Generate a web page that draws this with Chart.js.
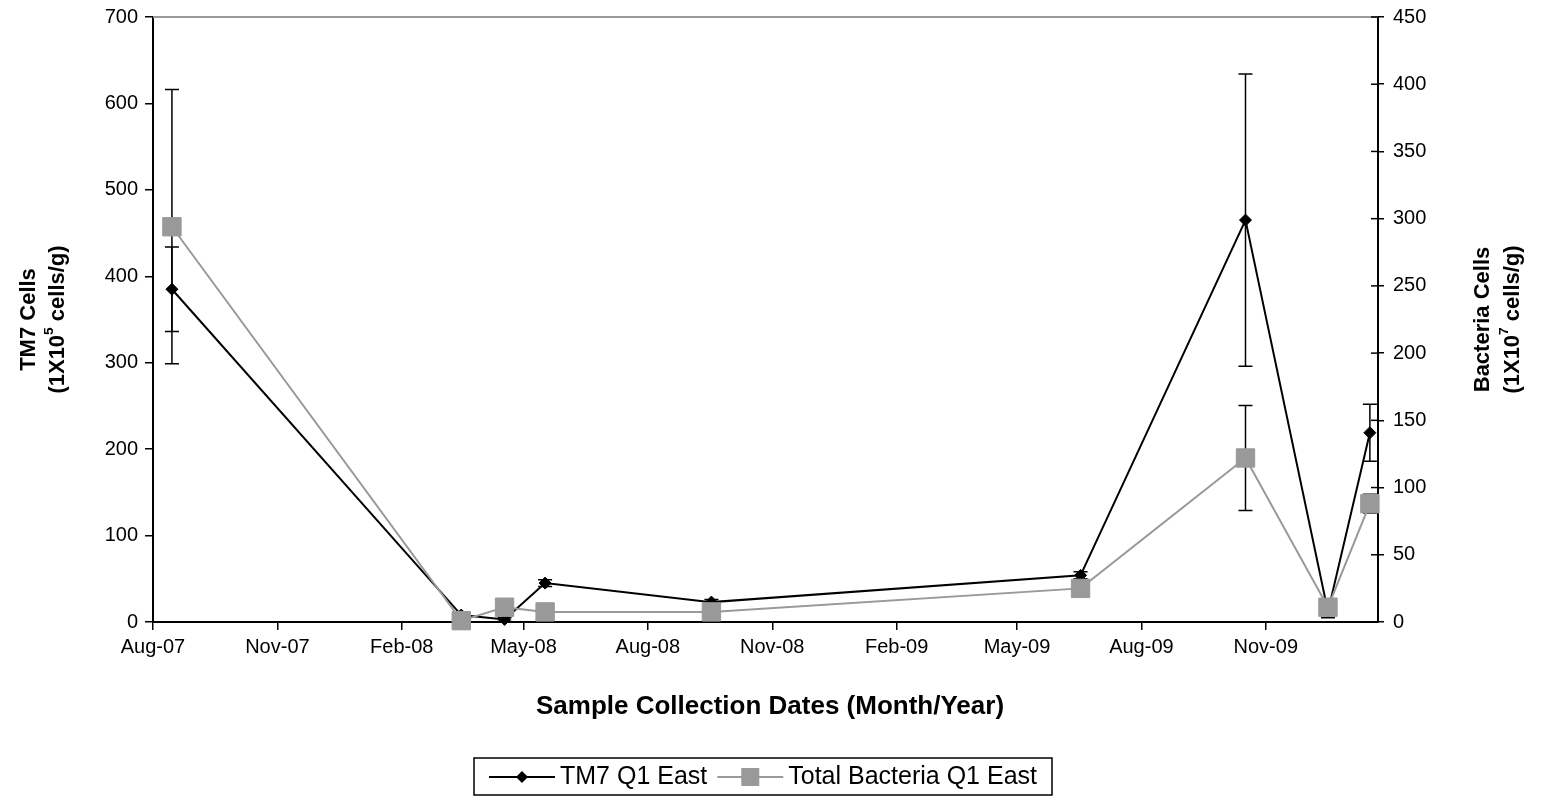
<!DOCTYPE html>
<html>
<head>
<meta charset="utf-8">
<script src="https://cdn.jsdelivr.net/npm/chart.js@4.4.1/dist/chart.umd.min.js"></script>
<style>
  html, body { margin: 0; padding: 0; background: #fff; }
  #wrap { width: 1541px; height: 796px; }
</style>
</head>
<body>
<div id="wrap"><canvas id="chart" width="1541" height="796"></canvas></div>
<script>
// Sample dates and values.
const sampleDates = ["2007-08-15", "2008-03-16", "2008-04-17", "2008-05-17", "2008-09-17",
  "2009-06-17", "2009-10-17", "2009-12-17", "2010-01-17"];
const tm7Cells = [385, 8, 3, 45, 23, 54, 465, 12, 219];
const tm7Err = [49, 2, 2, 4, 3, 4, 169, 7, 33];
const bacteriaCells = [294, 1, 11, 7.5, 7.5, 25, 122, 11, 88];
const bacteriaErr = [102, 1, 1, 1, 1, 1, 39, 1, 7];

// X axis tick dates and their labels (Excel date axis, 3 month steps).
const tickDates = ["2007-08-01", "2007-11-01", "2008-02-01", "2008-05-01", "2008-08-01",
  "2008-11-01", "2009-02-01", "2009-05-01", "2009-08-01", "2009-11-01"];
const tickLabels = ["Aug-07", "Nov-07", "Feb-08", "May-08", "Aug-08",
  "Nov-08", "Feb-09", "May-09", "Aug-09", "Nov-09"];
const axisStart = "2007-08-01";
const axisEnd = "2010-01-23";

const FONT = "'Liberation Sans', Arial, sans-serif";

// Days since the start of the axis.
function dayNum(s) {
  return Math.round((Date.parse(s) - Date.parse(axisStart)) / 86400000);
}

const tm7Points = sampleDates.map((d, i) => ({ x: dayNum(d), y: tm7Cells[i] }));
const bacteriaPoints = sampleDates.map((d, i) => ({ x: dayNum(d), y: bacteriaCells[i] }));

// Draw a line of text with a superscript piece, centred on (0,0) of the current transform.
function drawRich(ctx, parts, size, bold) {
  const w = bold ? "bold " : "";
  let total = 0;
  parts.forEach(p => {
    ctx.font = w + (p.sup ? size * 0.62 : size) + "px " + FONT;
    p.w = ctx.measureText(p.t).width;
    total += p.w;
  });
  let x = -total / 2;
  ctx.textBaseline = "middle";
  ctx.textAlign = "left";
  parts.forEach(p => {
    ctx.font = w + (p.sup ? size * 0.62 : size) + "px " + FONT;
    ctx.fillText(p.t, x, p.sup ? -size * 0.38 : 0);
    x += p.w;
  });
}

// Keep the plot area exactly where the reference has it.
function noPad(scale) {
  scale.paddingTop = 0;
  scale.paddingBottom = 0;
  scale.paddingLeft = 0;
  scale.paddingRight = 0;
}

const decor = {
  id: "decor",
  beforeDatasetsDraw(chart) {
    // Error bars.
    const ctx = chart.ctx;
    const xs = chart.scales.x;
    ctx.save();
    ctx.strokeStyle = "#000";
    ctx.lineWidth = 1.5;
    const bars = [
      { vals: tm7Cells, err: tm7Err, sc: chart.scales.y },
      { vals: bacteriaCells, err: bacteriaErr, sc: chart.scales.y1 }
    ];
    bars.forEach(b => {
      sampleDates.forEach((d, i) => {
        const px = xs.getPixelForValue(dayNum(d));
        const top = b.sc.getPixelForValue(b.vals[i] + b.err[i]);
        const bot = b.sc.getPixelForValue(b.vals[i] - b.err[i]);
        ctx.beginPath();
        ctx.moveTo(px, top); ctx.lineTo(px, bot);
        ctx.moveTo(px - 7, top); ctx.lineTo(px + 7, top);
        ctx.moveTo(px - 7, bot); ctx.lineTo(px + 7, bot);
        ctx.stroke();
      });
    });
    ctx.restore();
  },
  afterDraw(chart) {
    const ctx = chart.ctx;
    const a = chart.chartArea;
    ctx.save();

    // Top border of plot area.
    ctx.strokeStyle = "#999";
    ctx.lineWidth = 2;
    ctx.beginPath();
    ctx.moveTo(a.left, a.top); ctx.lineTo(a.right, a.top);
    ctx.stroke();

    // Inner half of the right axis ticks.
    ctx.strokeStyle = "#000";
    ctx.lineWidth = 1.5;
    chart.scales.y1.ticks.forEach(t => {
      const py = chart.scales.y1.getPixelForValue(t.value);
      ctx.beginPath();
      ctx.moveTo(a.right - 7, py); ctx.lineTo(a.right, py);
      ctx.stroke();
    });

    ctx.fillStyle = "#000";
    const midY = (a.top + a.bottom) / 2;

    // Left axis title.
    ctx.save();
    ctx.translate(29, midY); ctx.rotate(-Math.PI / 2);
    drawRich(ctx, [{ t: "TM7 Cells" }], 22, true);
    ctx.restore();
    ctx.save();
    ctx.translate(58, midY); ctx.rotate(-Math.PI / 2);
    drawRich(ctx, [{ t: "(1X10" }, { t: "5", sup: true }, { t: " cells/g)" }], 22, true);
    ctx.restore();

    // Right axis title.
    ctx.save();
    ctx.translate(1483, midY); ctx.rotate(-Math.PI / 2);
    drawRich(ctx, [{ t: "Bacteria Cells" }], 22, true);
    ctx.restore();
    ctx.save();
    ctx.translate(1513, midY); ctx.rotate(-Math.PI / 2);
    drawRich(ctx, [{ t: "(1X10" }, { t: "7", sup: true }, { t: " cells/g)" }], 22, true);
    ctx.restore();

    // X axis title.
    ctx.save();
    ctx.translate(770, 707);
    drawRich(ctx, [{ t: "Sample Collection Dates (Month/Year)" }], 26, true);
    ctx.restore();

    // Legend with a box.
    const ly = 777;
    ctx.font = "25px " + FONT;
    const t1 = "TM7 Q1 East", t2 = "Total Bacteria Q1 East";
    const w1 = ctx.measureText(t1).width, w2 = ctx.measureText(t2).width;
    const seg = 66, gap = 5, between = 10, padX = 15;
    const boxW = padX * 2 + seg + gap + w1 + between + seg + gap + w2;
    const bx = 763 - boxW / 2;
    ctx.strokeStyle = "#000";
    ctx.lineWidth = 1.5;
    ctx.strokeRect(bx, 758, boxW, 37);

    let x = bx + padX;
    ctx.strokeStyle = "#000"; ctx.lineWidth = 2;
    ctx.beginPath(); ctx.moveTo(x, ly); ctx.lineTo(x + seg, ly); ctx.stroke();
    ctx.fillStyle = "#000";
    ctx.beginPath();
    ctx.moveTo(x + seg / 2 - 6, ly); ctx.lineTo(x + seg / 2, ly - 6);
    ctx.lineTo(x + seg / 2 + 6, ly); ctx.lineTo(x + seg / 2, ly + 6);
    ctx.closePath(); ctx.fill();
    x += seg + gap;
    ctx.textAlign = "left"; ctx.textBaseline = "middle";
    ctx.fillText(t1, x, ly);
    x += w1 + between;

    ctx.strokeStyle = "#999";
    ctx.beginPath(); ctx.moveTo(x, ly); ctx.lineTo(x + seg, ly); ctx.stroke();
    ctx.fillStyle = "#999";
    ctx.fillRect(x + seg / 2 - 9, ly - 9, 18, 18);
    x += seg + gap;
    ctx.fillStyle = "#000";
    ctx.fillText(t2, x, ly);

    ctx.restore();
  }
};

const tickFont = { family: FONT, size: 20 };

new Chart(document.getElementById("chart"), {
  type: "line",
  data: {
    datasets: [
      {
        label: "TM7 Q1 East",
        data: tm7Points,
        yAxisID: "y",
        borderColor: "#000",
        backgroundColor: "#000",
        borderWidth: 2,
        pointStyle: "rectRot",
        pointRadius: 6,
        pointBorderWidth: 1,
        tension: 0,
        clip: false,
        order: 1
      },
      {
        label: "Total Bacteria Q1 East",
        data: bacteriaPoints,
        yAxisID: "y1",
        borderColor: "#999",
        backgroundColor: "#999",
        borderWidth: 2,
        pointStyle: "rect",
        pointRadius: 13,
        pointBorderWidth: 1,
        tension: 0,
        clip: false,
        order: 0
      }
    ]
  },
  options: {
    responsive: false,
    animation: false,
    devicePixelRatio: 1,
    layout: { padding: { top: 17, left: 0, right: 0, bottom: 0 } },
    plugins: {
      legend: { display: false },
      tooltip: { enabled: false }
    },
    scales: {
      x: {
        type: "linear",
        min: 0,
        max: dayNum(axisEnd),
        afterBuildTicks: (scale) => {
          scale.ticks = tickDates.map(d => ({ value: dayNum(d) }));
        },
        afterFit: (scale) => { scale.height = 174; noPad(scale); },
        ticks: {
          autoSkip: false,
          maxRotation: 0,
          color: "#000",
          font: tickFont,
          padding: 5,
          callback: (v) => {
            const i = tickDates.findIndex(d => dayNum(d) === v);
            return i >= 0 ? tickLabels[i] : "";
          }
        },
        grid: { drawOnChartArea: false, color: "#000", lineWidth: 1.5, tickLength: 8 },
        border: { color: "#000", width: 2 }
      },
      y: {
        position: "left",
        min: 0,
        max: 700,
        afterFit: (scale) => { scale.width = 153; noPad(scale); },
        ticks: { stepSize: 100, color: "#000", font: tickFont, padding: 7 },
        grid: { drawOnChartArea: false, color: "#000", lineWidth: 1.5, tickLength: 8 },
        border: { color: "#000", width: 2 }
      },
      y1: {
        position: "right",
        min: 0,
        max: 450,
        afterFit: (scale) => { scale.width = 163; noPad(scale); },
        ticks: { stepSize: 50, color: "#000", font: tickFont, padding: 9 },
        grid: { drawOnChartArea: false, color: "#000", lineWidth: 1.5, tickLength: 6 },
        border: { color: "#000", width: 2 }
      }
    }
  },
  plugins: [decor]
});
</script>
</body>
</html>
